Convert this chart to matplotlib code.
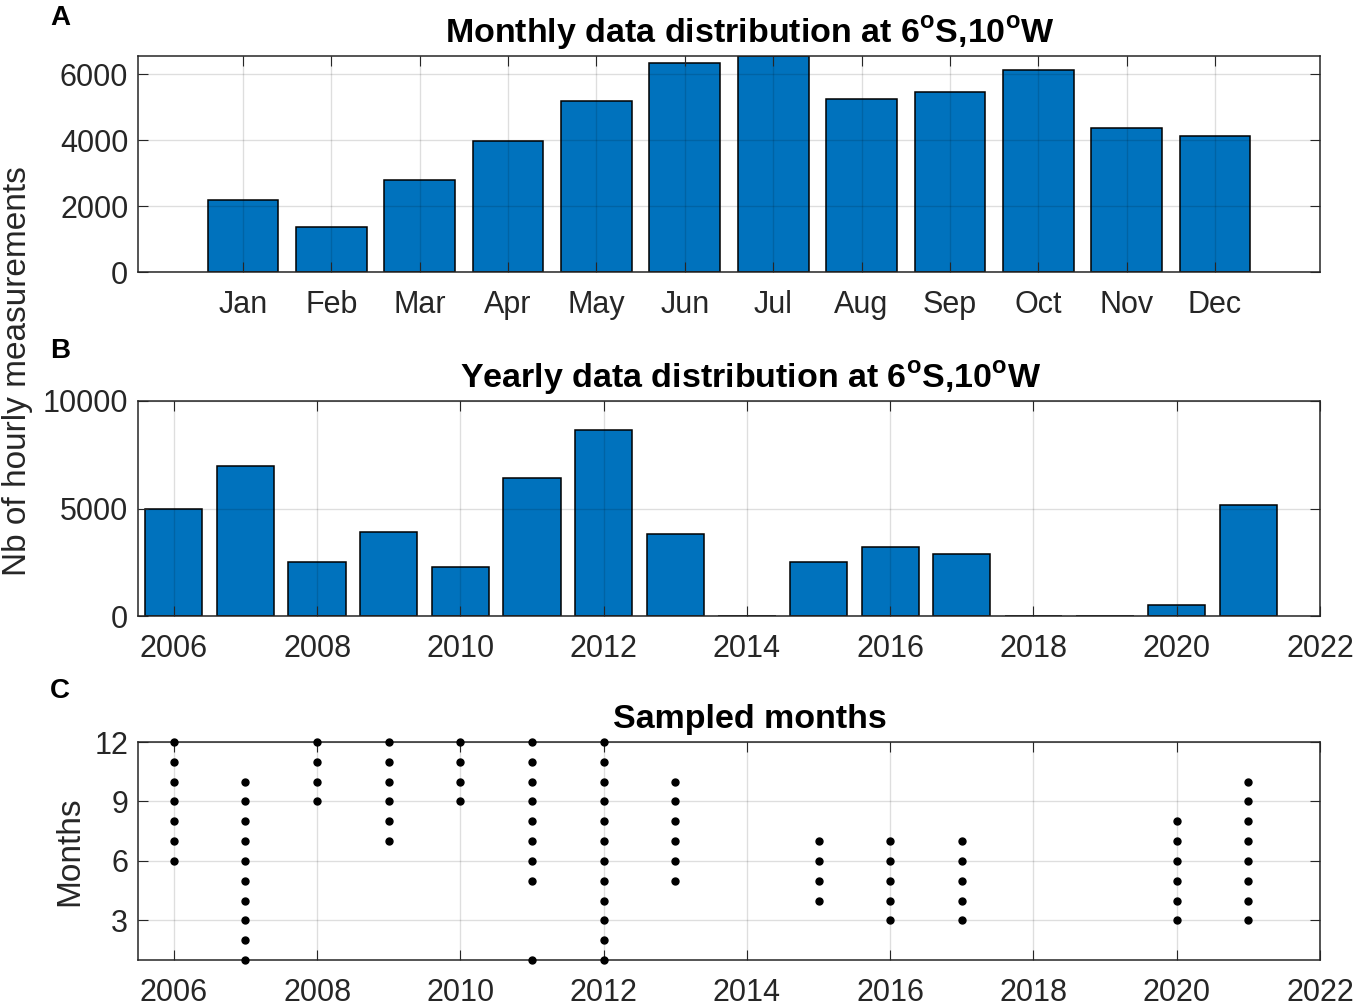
import numpy as np
import matplotlib.pyplot as plt

plt.rcParams['font.family'] = ['Liberation Sans', 'DejaVu Sans']
plt.rcParams['mathtext.fontset'] = 'custom'
plt.rcParams['mathtext.rm'] = 'Liberation Sans'
plt.rcParams['mathtext.bf'] = 'Liberation Sans:bold'

# Data
months = ['Jan', 'Feb', 'Mar', 'Apr', 'May', 'Jun',
          'Jul', 'Aug', 'Sep', 'Oct', 'Nov', 'Dec']
monthly_counts = [2180, 1360, 2790, 3970, 5180, 6330,
                  6550, 5240, 5450, 6120, 4360, 4120]

years = list(range(2006, 2022))
yearly_counts = [4980, 6980, 2510, 3900, 2280, 6420, 8650, 3810,
                 0, 2510, 3210, 2880, 0, 0, 510, 5160]

sampled_years = [2006, 2007, 2008, 2009, 2010, 2011, 2012,
                 2013, 2015, 2016, 2017, 2020, 2021]
sampled_months = [
    [6, 7, 8, 9, 10, 11, 12],
    [1, 2, 3, 4, 5, 6, 7, 8, 9, 10],
    [9, 10, 11, 12],
    [7, 8, 9, 10, 11, 12],
    [9, 10, 11, 12],
    [1, 5, 6, 7, 8, 9, 10, 11, 12],
    [1, 2, 3, 4, 5, 6, 7, 8, 9, 10, 11, 12],
    [5, 6, 7, 8, 9, 10],
    [4, 5, 6, 7],
    [3, 4, 5, 6, 7],
    [3, 4, 5, 6, 7],
    [3, 4, 5, 6, 7, 8],
    [3, 4, 5, 6, 7, 8, 9, 10],
]

W, H = 1358, 1007
fig = plt.figure(figsize=(W / 100, H / 100), dpi=100)

bar_color = '#0072BD'
txt_color = '#262626'
tick_fs = 22
label_fs = 24
title_fs = 24.5


def make_axes(top, bottom):
    left, right = 138, 1320
    ax = fig.add_axes([left / W, 1 - bottom / H, (right - left) / W, (bottom - top) / H])
    for s in ax.spines.values():
        s.set_linewidth(1.1)
        s.set_color(txt_color)
    ax.tick_params(direction='in', length=7, width=0.8, colors=txt_color,
                   labelsize=tick_fs, top=True, right=True)
    ax.tick_params(axis='x', pad=13)
    ax.tick_params(axis='y', pad=7)
    ax.grid(True, color='black', alpha=0.13, linewidth=1.0)
    ax.set_axisbelow(False)
    return ax


def add_title(ax, text):
    ax.set_title(text, fontsize=title_fs, fontweight='bold', pad=10, x=0.518)


# Panel A: monthly
axA = make_axes(56, 272)
xm = np.arange(1, 13)
axA.bar(xm, monthly_counts, width=0.8, color=bar_color, edgecolor='black', linewidth=1.1, zorder=1)
axA.set_xlim(-0.19, 13.19)
axA.set_ylim(0, max(monthly_counts))
axA.set_xticks(xm)
axA.set_xticklabels(months)
axA.set_yticks([0, 2000, 4000, 6000])
add_title(axA, r'Monthly data distribution at 6$^{\mathbf{o}}$S,10$^{\mathbf{o}}$W')

# Panel B: yearly
axB = make_axes(401, 616)
axB.bar(years, yearly_counts, width=0.8, color=bar_color, edgecolor='black', linewidth=1.1, zorder=1)
axB.set_xlim(2005.5, 2022)
axB.set_ylim(0, 10000)
axB.set_xticks(range(2006, 2023, 2))
axB.set_yticks([0, 5000, 10000])
add_title(axB, r'Yearly data distribution at 6$^{\mathbf{o}}$S,10$^{\mathbf{o}}$W')

# Panel C: sampled months
axC = make_axes(742, 960)
for yr, ms in zip(sampled_years, sampled_months):
    axC.plot([yr] * len(ms), ms, 'o', color='black', markersize=5,
             clip_on=False, zorder=4)
axC.set_xlim(2005.5, 2022)
axC.set_ylim(1, 12)
axC.set_xticks(range(2006, 2023, 2))
axC.set_yticks([3, 6, 9, 12])
add_title(axC, 'Sampled months')

# Axis labels
fig.text(18 / W, 1 - 371 / H, 'Nb of hourly measurements', rotation=90,
         ha='center', va='center', fontsize=label_fs, color=txt_color)
fig.text(70 / W, 1 - 851 / H, 'Months', rotation=90,
         ha='center', va='center', fontsize=label_fs, color=txt_color)

# Panel letters
for letter, yb in [('A', 25), ('B', 358), ('C', 698)]:
    fig.text(50 / W, 1 - yb / H, letter, fontsize=20, fontweight='bold',
             ha='left', va='baseline', color='black')

fig.savefig('out.png', dpi=100)
